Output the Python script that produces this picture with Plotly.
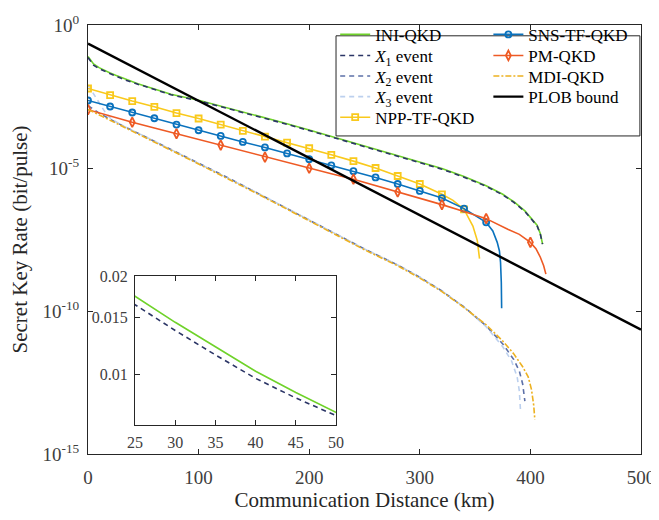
import numpy as np
import plotly.graph_objects as go

# ---------------- data (distance in km, log10 of key rate in bit/pulse) ----------------
ini_L = [0, 2, 5, 10, 15, 20, 25, 30, 35, 40, 45, 50, 60, 75, 100, 125, 150, 175, 200, 225,
         250, 275, 300, 320, 340, 360, 375, 385, 395, 402, 406, 409, 411]
ini_log = [-1.10, -1.22, -1.36, -1.49, -1.59, -1.68, -1.76, -1.84, -1.915, -1.99, -2.055, -2.114,
           -2.23, -2.42, -2.63, -2.88, -3.13, -3.40, -3.67, -3.95, -4.21, -4.50, -4.78, -5.02,
           -5.30, -5.62, -5.92, -6.18, -6.50, -6.80, -7.00, -7.30, -7.66]

x1_L = ini_L
x1_log = [-1.14, -1.26, -1.40, -1.53, -1.62, -1.71, -1.786, -1.865, -1.94, -2.012, -2.072, -2.126,
          -2.25, -2.44, -2.65, -2.90, -3.15, -3.42, -3.69, -3.97, -4.23, -4.52, -4.80, -5.04,
          -5.32, -5.64, -5.94, -6.20, -6.52, -6.82, -7.02, -7.32, -7.66]

mdi_L = [0, 25, 50, 75, 100, 125, 150, 175, 200, 225, 250, 280, 300, 320, 340, 360, 375, 385,
         393, 398, 401, 403, 404]
mdi_log = [-2.95, -3.42, -3.90, -4.38, -4.86, -5.34, -5.84, -6.34, -6.84, -7.36, -7.86, -8.42,
           -8.85, -9.32, -9.88, -10.48, -11.05, -11.50, -11.95, -12.30, -12.75, -13.30, -13.80]

x2_L = [0, 10, 25, 50, 75, 100, 125, 150, 175, 200, 225, 250, 280, 300, 320, 340, 360, 375,
        385, 390, 393, 395]
x2_log = [-2.82, -3.08, -3.40, -3.87, -4.35, -4.83, -5.31, -5.81, -6.31, -6.81, -7.33, -7.83,
          -8.39, -8.82, -9.30, -9.86, -10.52, -11.15, -11.70, -12.10, -12.55, -13.15]

x3_L = [0, 5, 10, 15, 20, 30, 50, 75, 100, 125, 150, 175, 200, 225, 250, 280, 300, 320, 340,
        360, 375, 383, 388, 390, 391]
x3_log = [-2.10, -2.42, -2.75, -3.02, -3.25, -3.50, -3.87, -4.35, -4.83, -5.31, -5.81, -6.31,
          -6.81, -7.33, -7.83, -8.39, -8.82, -9.30, -9.86, -10.55, -11.25, -11.75, -12.30,
          -12.80, -13.45]

npp_L = [0, 20, 40, 60, 80, 100, 120, 140, 160, 180, 200, 220, 240, 260, 280, 300, 320, 330,
         340, 348, 352, 354]
npp_log = [-2.22, -2.45, -2.66, -2.86, -3.08, -3.27, -3.48, -3.70, -3.90, -4.11, -4.31, -4.54,
           -4.76, -5.00, -5.28, -5.56, -5.92, -6.13, -6.45, -7.03, -7.54, -8.17]
npp_marker_L = [0, 20, 40, 60, 80, 100, 120, 140, 160, 180, 200, 220, 240, 260, 280, 300, 320,
                340]

sns_L = [0, 20, 40, 60, 80, 100, 120, 140, 160, 180, 200, 220, 240, 260, 280, 300, 320, 340,
         360, 366, 370, 372, 373, 373.7, 374]
sns_log = [-2.64, -2.85, -3.06, -3.26, -3.48, -3.68, -3.88, -4.09, -4.28, -4.49, -4.69, -4.91,
           -5.11, -5.33, -5.56, -5.80, -6.05, -6.42, -6.90, -7.20, -7.60, -7.90, -8.30, -9.00,
           -9.90]
sns_marker_L = [0, 20, 40, 60, 80, 100, 120, 140, 160, 180, 200, 220, 240, 260, 280, 300, 320,
                340, 360]

pm_L = [0, 20, 40, 60, 80, 100, 120, 140, 160, 180, 200, 220, 240, 260, 280, 300, 320, 340,
        360, 380, 390, 400, 405, 409, 412, 414]
pm_log = [-2.96, -3.19, -3.40, -3.60, -3.80, -4.00, -4.20, -4.41, -4.62, -4.81, -5.01, -5.20,
          -5.39, -5.61, -5.84, -6.06, -6.28, -6.52, -6.77, -7.15, -7.32, -7.60, -7.82, -8.12,
          -8.42, -8.71]
pm_marker_L = [0, 40, 80, 120, 160, 200, 240, 280, 320, 360, 400]

plob_L = [0, 500]
plob_log = [-0.65, -10.65]

names = ["INI-QKD", "<i>X</i><sub>1</sub> event", "<i>X</i><sub>2</sub> event",
         "<i>X</i><sub>3</sub> event", "NPP-TF-QKD", "SNS-TF-QKD", "PM-QKD", "MDI-QKD",
         "PLOB bound"]

main_xticks = [0, 100, 200, 300, 400, 500]
main_yticks = [1, 1e-5, 1e-10, 1e-15]
main_yticktext = ["10<sup>0</sup>", "10<sup>-5</sup>", "10<sup>-10</sup>", "10<sup>-15</sup>"]
inset_xticks = [25, 30, 35, 40, 45, 50]
inset_yticks = [0.01, 0.015, 0.02]
inset_yticktext = ["0.01", "0.015", "0.02"]

# ---------------- styles ----------------
C_INI = "#6fd22a"
C_X1 = "#2b3566"
C_X2 = "#5c70a8"
C_X3 = "#bcd0ee"
C_NPP = "#f9c91c"
C_SNS = "#0a72bd"
C_PM = "#ee5a24"
C_MDI = "#edb120"
C_PLOB = "#000000"

FONT = "Liberation Serif"

# legend slot for each series: (column x in paper, row y-center in paper)
COL1_X, COL2_X = 0.447, 0.724
ROWS = [0.9770, 0.9280, 0.8800, 0.8320, 0.7840]
legend_slots = [(COL1_X, ROWS[0]), (COL1_X, ROWS[1]), (COL1_X, ROWS[2]), (COL1_X, ROWS[3]),
                (COL1_X, ROWS[4]), (COL2_X, ROWS[0]), (COL2_X, ROWS[1]), (COL2_X, ROWS[2]),
                (COL2_X, ROWS[3])]


def rate(v):
    return np.power(10.0, np.asarray(v, dtype=float))


def pick(L, vals, keep):
    xs, ys = [], []
    for l, v in zip(L, vals):
        if l in keep:
            xs.append(l)
            ys.append(v)
    return xs, rate(ys)


fig = go.Figure()

series = [
    (ini_L, ini_log, dict(color=C_INI, width=1.6), None),
    (x1_L, x1_log, dict(color=C_X1, width=1.6, dash="5px,4px"), None),
    (x2_L, x2_log, dict(color=C_X2, width=1.6, dash="5px,4px"), None),
    (x3_L, x3_log, dict(color=C_X3, width=1.6, dash="5px,4px"), None),
    (npp_L, npp_log, dict(color=C_NPP, width=1.6), ("square-open", npp_marker_L, 6)),
    (sns_L, sns_log, dict(color=C_SNS, width=1.6), ("circle-open", sns_marker_L, 6)),
    (pm_L, pm_log, dict(color=C_PM, width=1.6), ("diamond-tall-open", pm_marker_L, 7)),
    (mdi_L, mdi_log, dict(color=C_MDI, width=1.6, dash="6px,2px,2px,2px"), None),
    (plob_L, plob_log, dict(color=C_PLOB, width=2.4), None),
]

legend_layout = {}
for i, ((L, lg, line, mk), name) in enumerate(zip(series, names)):
    leg = "legend" if i == 0 else "legend%d" % (i + 1)
    fig.add_trace(go.Scatter(x=L, y=rate(lg), mode="lines", line=line, showlegend=False,
                             hoverinfo="skip", xaxis="x", yaxis="y"))
    mdict = None
    if mk is not None:
        sym, keep, size = mk
        mdict = dict(symbol=sym, size=size, color=line["color"],
                     line=dict(width=1.8, color=line["color"]))
        mx, my = pick(L, lg, keep)
        fig.add_trace(go.Scatter(x=mx, y=my, mode="markers", showlegend=False, marker=mdict,
                                 xaxis="x", yaxis="y"))
    fig.add_trace(go.Scatter(x=[None], y=[None], mode="lines+markers" if mk else "lines",
                             line=line, name=name, legend=leg, marker=mdict,
                             xaxis="x", yaxis="y"))
    lx, ly = legend_slots[i]
    legend_layout[leg] = dict(x=lx, y=ly, xanchor="left", yanchor="middle",
                              bgcolor="rgba(0,0,0,0)", borderwidth=0,
                              font=dict(size=17, color="#000000", family=FONT),
                              itemwidth=30)

# inset
fig.add_trace(go.Scatter(x=ini_L, y=rate(ini_log), mode="lines", line=dict(color=C_INI, width=1.6),
                         showlegend=False, xaxis="x2", yaxis="y2"))
fig.add_trace(go.Scatter(x=x1_L, y=rate(x1_log), mode="lines",
                         line=dict(color=C_X1, width=1.6, dash="5px,4px"),
                         showlegend=False, xaxis="x2", yaxis="y2"))

axis_common = dict(showgrid=False, zeroline=False, showline=True, linecolor="#262626",
                   linewidth=1, mirror="ticks", ticks="inside", tickcolor="#262626",
                   ticklen=5, tickwidth=1, automargin=False)

# the page adds an 8px body margin; the figure is sized to fit inside the 659x520 window
fig.update_layout(
    width=651, height=504,
    margin=dict(l=80, r=18, t=9, b=58),
    paper_bgcolor="white", plot_bgcolor="white",
    font=dict(family=FONT, color="#262626", size=17),
    xaxis=dict(domain=[0, 1], range=[0, 500], tickvals=main_xticks,
               tickfont=dict(size=19, color="#404040"), ticklabelstandoff=6,
               title=dict(text="Communication Distance (km)", font=dict(size=21, color="#262626"),
                          standoff=2),
               **axis_common),
    yaxis=dict(domain=[0, 1], type="log", range=[-15, 0], tickvals=main_yticks,
               ticktext=main_yticktext, tickfont=dict(size=19, color="#404040"),
               ticklabelstandoff=4,
               title=dict(text="Secret Key Rate (bit/pulse)", font=dict(size=21, color="#262626"),
                          standoff=12),
               **axis_common),
    xaxis2=dict(domain=[0.085, 0.4485], anchor="y2", range=[25, 50], tickvals=inset_xticks,
                tickfont=dict(size=16, color="#404040"), ticklabelstandoff=3, **axis_common),
    yaxis2=dict(domain=[0.0686, 0.4142], anchor="x2", type="log", range=[-2.1535, -1.699],
                tickvals=inset_yticks, ticktext=inset_yticktext,
                tickfont=dict(size=16, color="#404040"), ticklabelstandoff=3, **axis_common),
    shapes=[dict(type="rect", xref="paper", yref="paper", x0=0.4485, x1=0.998, y0=0.7414,
                 y1=0.9748, line=dict(color="#262626", width=1), fillcolor="white",
                 layer="below")],
    **legend_layout,
)

fig.write_html("out.html")
